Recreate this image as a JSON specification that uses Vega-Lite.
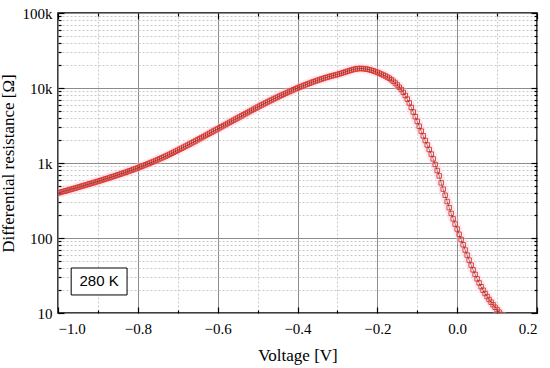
{
  "$schema": "https://vega.github.io/schema/vega-lite/v6.json",
  "width": 479,
  "height": 300,
  "autosize": "none",
  "padding": {"left": 58, "top": 13, "right": 13, "bottom": 55},
  "background": "white",
  "config": {
    "view": {"stroke": "black", "strokeWidth": 1.5},
    "axis": {"labelFont": "Liberation Serif", "titleFont": "Liberation Serif", "labelFontSize": 15, "titleFontSize": 17, "titleFontWeight": "normal", "labelColor": "black", "titleColor": "black", "domainColor": "black", "domainWidth": 1.5, "tickColor": "black", "tickWidth": 1.2}
  },
  "datasets": {
    "curve": [
      {"v": -1.000, "r": 398.1}, {"v": -0.995, "r": 405.0}, {"v": -0.990, "r": 412.1}, {"v": -0.985, "r": 419.3}, {"v": -0.980, "r": 426.6},
      {"v": -0.975, "r": 434.0}, {"v": -0.970, "r": 441.6}, {"v": -0.965, "r": 449.3}, {"v": -0.960, "r": 457.1}, {"v": -0.955, "r": 465.6},
      {"v": -0.950, "r": 474.2}, {"v": -0.945, "r": 483.0}, {"v": -0.940, "r": 492.1}, {"v": -0.935, "r": 500.6}, {"v": -0.930, "r": 509.3},
      {"v": -0.925, "r": 518.8}, {"v": -0.920, "r": 528.4}, {"v": -0.915, "r": 538.2}, {"v": -0.910, "r": 548.2}, {"v": -0.905, "r": 558.4},
      {"v": -0.900, "r": 568.8}, {"v": -0.895, "r": 580.1}, {"v": -0.890, "r": 591.5}, {"v": -0.885, "r": 603.3}, {"v": -0.880, "r": 615.2},
      {"v": -0.875, "r": 627.3}, {"v": -0.870, "r": 639.8}, {"v": -0.865, "r": 652.4}, {"v": -0.860, "r": 665.3}, {"v": -0.855, "r": 679.2},
      {"v": -0.850, "r": 693.4}, {"v": -0.845, "r": 707.9}, {"v": -0.840, "r": 722.7}, {"v": -0.835, "r": 737.9}, {"v": -0.830, "r": 753.3},
      {"v": -0.825, "r": 770.0}, {"v": -0.820, "r": 787.0}, {"v": -0.815, "r": 804.4}, {"v": -0.810, "r": 822.2}, {"v": -0.805, "r": 841.4},
      {"v": -0.800, "r": 861.0}, {"v": -0.795, "r": 882.1}, {"v": -0.790, "r": 903.7}, {"v": -0.785, "r": 925.8}, {"v": -0.780, "r": 948.5},
      {"v": -0.775, "r": 972.8}, {"v": -0.770, "r": 997.7}, {"v": -0.765, "r": 1023}, {"v": -0.760, "r": 1049}, {"v": -0.755, "r": 1078},
      {"v": -0.750, "r": 1106}, {"v": -0.745, "r": 1138}, {"v": -0.740, "r": 1169}, {"v": -0.735, "r": 1202}, {"v": -0.730, "r": 1236},
      {"v": -0.725, "r": 1272}, {"v": -0.720, "r": 1309}, {"v": -0.715, "r": 1349}, {"v": -0.710, "r": 1390}, {"v": -0.705, "r": 1434},
      {"v": -0.700, "r": 1479}, {"v": -0.695, "r": 1526}, {"v": -0.690, "r": 1574}, {"v": -0.685, "r": 1626}, {"v": -0.680, "r": 1679},
      {"v": -0.675, "r": 1734}, {"v": -0.670, "r": 1790}, {"v": -0.665, "r": 1850}, {"v": -0.660, "r": 1909}, {"v": -0.655, "r": 1970},
      {"v": -0.650, "r": 2042}, {"v": -0.645, "r": 2111}, {"v": -0.640, "r": 2183}, {"v": -0.635, "r": 2257}, {"v": -0.630, "r": 2334},
      {"v": -0.625, "r": 2413}, {"v": -0.620, "r": 2495}, {"v": -0.615, "r": 2579}, {"v": -0.610, "r": 2667}, {"v": -0.605, "r": 2757},
      {"v": -0.600, "r": 2851}, {"v": -0.595, "r": 2948}, {"v": -0.590, "r": 3048}, {"v": -0.585, "r": 3151}, {"v": -0.580, "r": 3258},
      {"v": -0.575, "r": 3369}, {"v": -0.570, "r": 3483}, {"v": -0.565, "r": 3602}, {"v": -0.560, "r": 3724}, {"v": -0.555, "r": 3850},
      {"v": -0.550, "r": 3981}, {"v": -0.545, "r": 4116}, {"v": -0.540, "r": 4256}, {"v": -0.535, "r": 4400}, {"v": -0.530, "r": 4550},
      {"v": -0.525, "r": 4704}, {"v": -0.520, "r": 4864}, {"v": -0.515, "r": 5029}, {"v": -0.510, "r": 5200}, {"v": -0.505, "r": 5376},
      {"v": -0.500, "r": 5559}, {"v": -0.495, "r": 5741}, {"v": -0.490, "r": 5929}, {"v": -0.485, "r": 6117}, {"v": -0.480, "r": 6310},
      {"v": -0.475, "r": 6509}, {"v": -0.470, "r": 6714}, {"v": -0.465, "r": 6918}, {"v": -0.460, "r": 7128}, {"v": -0.455, "r": 7345},
      {"v": -0.450, "r": 7568}, {"v": -0.445, "r": 7789}, {"v": -0.440, "r": 8017}, {"v": -0.435, "r": 8251}, {"v": -0.430, "r": 8492},
      {"v": -0.425, "r": 8730}, {"v": -0.420, "r": 8975}, {"v": -0.415, "r": 9226}, {"v": -0.410, "r": 9485}, {"v": -0.405, "r": 9739},
      {"v": -0.400, "r": 10000}, {"v": -0.395, "r": 10254}, {"v": -0.390, "r": 10518}, {"v": -0.385, "r": 10782}, {"v": -0.380, "r": 11036},
      {"v": -0.375, "r": 11298}, {"v": -0.370, "r": 11559}, {"v": -0.365, "r": 11831}, {"v": -0.360, "r": 12103}, {"v": -0.355, "r": 12371},
      {"v": -0.350, "r": 12648}, {"v": -0.345, "r": 12910}, {"v": -0.340, "r": 13183}, {"v": -0.335, "r": 13441}, {"v": -0.330, "r": 13709},
      {"v": -0.325, "r": 13960}, {"v": -0.320, "r": 14228}, {"v": -0.315, "r": 14454}, {"v": -0.310, "r": 14685}, {"v": -0.305, "r": 14910},
      {"v": -0.300, "r": 15136}, {"v": -0.295, "r": 15439}, {"v": -0.290, "r": 15742}, {"v": -0.285, "r": 16052}, {"v": -0.280, "r": 16370},
      {"v": -0.275, "r": 16696}, {"v": -0.270, "r": 17019}, {"v": -0.265, "r": 17336}, {"v": -0.260, "r": 17662}, {"v": -0.255, "r": 17903},
      {"v": -0.250, "r": 18110}, {"v": -0.245, "r": 18173}, {"v": -0.240, "r": 18197}, {"v": -0.235, "r": 18110}, {"v": -0.230, "r": 17986},
      {"v": -0.225, "r": 17783}, {"v": -0.220, "r": 17541}, {"v": -0.215, "r": 17236}, {"v": -0.210, "r": 16909}, {"v": -0.205, "r": 16540},
      {"v": -0.200, "r": 16145}, {"v": -0.195, "r": 15742}, {"v": -0.190, "r": 15315}, {"v": -0.185, "r": 14892}, {"v": -0.180, "r": 14454},
      {"v": -0.175, "r": 13976}, {"v": -0.170, "r": 13490}, {"v": -0.165, "r": 12910}, {"v": -0.160, "r": 12303}, {"v": -0.155, "r": 11640},
      {"v": -0.150, "r": 10965}, {"v": -0.145, "r": 10254}, {"v": -0.140, "r": 9550}, {"v": -0.135, "r": 8750}, {"v": -0.130, "r": 7943},
      {"v": -0.125, "r": 7112}, {"v": -0.120, "r": 6310}, {"v": -0.115, "r": 5508}, {"v": -0.110, "r": 4786}, {"v": -0.105, "r": 4150},
      {"v": -0.100, "r": 3589}, {"v": -0.095, "r": 3090}, {"v": -0.090, "r": 2661}, {"v": -0.085, "r": 2302}, {"v": -0.080, "r": 1995},
      {"v": -0.075, "r": 1738}, {"v": -0.070, "r": 1514}, {"v": -0.065, "r": 1315}, {"v": -0.060, "r": 1135}, {"v": -0.055, "r": 955},
      {"v": -0.050, "r": 794}, {"v": -0.045, "r": 673.0}, {"v": -0.040, "r": 543.2}, {"v": -0.035, "r": 448.8}, {"v": -0.030, "r": 371.5},
      {"v": -0.025, "r": 306.9}, {"v": -0.020, "r": 254.1}, {"v": -0.015, "r": 212.8}, {"v": -0.010, "r": 179.9}, {"v": -0.005, "r": 153.5},
      {"v": 0.000, "r": 131.8}, {"v": 0.005, "r": 112.2}, {"v": 0.010, "r": 95.5}, {"v": 0.015, "r": 81.28}, {"v": 0.020, "r": 69.18},
      {"v": 0.025, "r": 59.15}, {"v": 0.030, "r": 50.70}, {"v": 0.035, "r": 43.55}, {"v": 0.040, "r": 37.58}, {"v": 0.045, "r": 32.66},
      {"v": 0.050, "r": 28.51}, {"v": 0.055, "r": 25.18}, {"v": 0.060, "r": 22.39}, {"v": 0.065, "r": 20.14}, {"v": 0.070, "r": 18.20},
      {"v": 0.075, "r": 16.56}, {"v": 0.080, "r": 15.14}, {"v": 0.085, "r": 13.93}, {"v": 0.090, "r": 12.88}, {"v": 0.095, "r": 11.94},
      {"v": 0.100, "r": 11.09}, {"v": 0.105, "r": 10.28}, {"v": 0.110, "r": 9.55}, {"v": 0.115, "r": 8.91}
    ],
    "label": [{"v": -0.897, "r": 26.5, "v1": -0.967, "v2": -0.827, "r1": 17.4, "r2": 39.8, "text": "280 K"}]
  },
  "layer": [
    {
      "data": {"name": "curve"},
      "mark": {"type": "point", "opacity": 0},
      "encoding": {
        "x": {"field": "v", "type": "quantitative", "scale": {"domain": [-1, 0.2], "nice": false, "zero": false},
          "axis": {"orient": "bottom", "title": "Voltage [V]", "values": [-1.0, -0.9, -0.8, -0.7, -0.6, -0.5, -0.4, -0.3, -0.2, -0.1, 0.0, 0.1, 0.2],
            "labelExpr": "abs(datum.value*5 - round(datum.value*5)) < 0.001 ? replace(format(datum.value, '.1f'), '-', '\u2212') : ''",
            "labelOverlap": false, "labelPadding": 14, "titlePadding": 8, "domain": false,
            "tickSize": {"condition": {"test": "abs(datum.value*5 - round(datum.value*5)) < 0.001", "value": -6}, "value": -3},
            "grid": true,
            "gridColor": {"condition": {"test": "abs(datum.value*5 - round(datum.value*5)) < 0.001", "value": "#8c8c8c"}, "value": "#c8c8c8"},
            "gridDash": {"condition": {"test": "abs(datum.value*5 - round(datum.value*5)) < 0.001", "value": []}, "value": [2, 2]},
            "gridWidth": 1}},
        "y": {"field": "r", "type": "quantitative", "scale": {"type": "log", "domain": [10, 100000], "nice": false},
          "axis": {"orient": "left", "title": "Differential resistance [\u03a9]",
            "values": [10, 20, 30, 40, 50, 60, 70, 80, 90, 100, 200, 300, 400, 500, 600, 700, 800, 900, 1000, 2000, 3000, 4000, 5000, 6000, 7000, 8000, 9000, 10000, 20000, 30000, 40000, 50000, 60000, 70000, 80000, 90000, 100000],
            "labelExpr": "abs(log(datum.value)/LN10 - round(log(datum.value)/LN10)) < 0.001 ? (datum.value >= 1000 ? format(datum.value/1000, 'd') + 'k' : format(datum.value, 'd')) : ''",
            "labelOverlap": false, "labelPadding": 12, "titlePadding": 5, "domain": false,
            "tickSize": {"condition": {"test": "abs(log(datum.value)/LN10 - round(log(datum.value)/LN10)) < 0.001", "value": -6}, "value": -3},
            "grid": true,
            "gridColor": {"condition": {"test": "abs(log(datum.value)/LN10 - round(log(datum.value)/LN10)) < 0.001", "value": "#8c8c8c"}, "value": "#c8c8c8"},
            "gridDash": {"condition": {"test": "abs(log(datum.value)/LN10 - round(log(datum.value)/LN10)) < 0.001", "value": []}, "value": [2, 2]},
            "gridWidth": 1}}
      }
    },
    {
      "data": {"name": "curve"},
      "mark": {"type": "point", "opacity": 0},
      "encoding": {
        "x": {"field": "v", "type": "quantitative",
          "axis": {"orient": "top", "title": null, "labels": false, "grid": false, "domain": false,
            "values": [-1.0, -0.9, -0.8, -0.7, -0.6, -0.5, -0.4, -0.3, -0.2, -0.1, 0.0, 0.1, 0.2],
            "tickSize": {"condition": {"test": "abs(datum.value*5 - round(datum.value*5)) < 0.001", "value": -6}, "value": -3}}},
        "y": {"field": "r", "type": "quantitative",
          "axis": {"orient": "right", "title": null, "labels": false, "grid": false, "domain": false,
            "values": [10, 20, 30, 40, 50, 60, 70, 80, 90, 100, 200, 300, 400, 500, 600, 700, 800, 900, 1000, 2000, 3000, 4000, 5000, 6000, 7000, 8000, 9000, 10000, 20000, 30000, 40000, 50000, 60000, 70000, 80000, 90000, 100000],
            "tickSize": {"condition": {"test": "abs(log(datum.value)/LN10 - round(log(datum.value)/LN10)) < 0.001", "value": -6}, "value": -3}}}
      }
    },
    {
      "data": {"name": "curve"},
      "mark": {"type": "line", "stroke": "#ffc0d6", "strokeWidth": 10, "opacity": 0.35, "clip": true, "strokeCap": "round", "strokeJoin": "round"},
      "encoding": {
        "x": {"field": "v", "type": "quantitative", "axis": null},
        "y": {"field": "r", "type": "quantitative", "axis": null}
      }
    },
    {
      "data": {"name": "curve"},
      "mark": {"type": "point", "shape": "square", "filled": false, "stroke": "#d8352c", "strokeWidth": 0.9, "size": 20, "opacity": 1, "clip": true},
      "encoding": {
        "x": {"field": "v", "type": "quantitative", "axis": null},
        "y": {"field": "r", "type": "quantitative", "axis": null}
      }
    },
    {
      "data": {"name": "curve"},
      "mark": {"type": "line", "stroke": "#3a1a1a", "strokeWidth": 0.7, "opacity": 0.7, "clip": true},
      "encoding": {
        "x": {"field": "v", "type": "quantitative", "axis": null},
        "y": {"field": "r", "type": "quantitative", "axis": null}
      }
    },
    {
      "data": {"name": "label"},
      "mark": {"type": "rect", "fill": "white", "stroke": "black", "strokeWidth": 1},
      "encoding": {
        "x": {"field": "v1", "type": "quantitative", "axis": null},
        "x2": {"field": "v2"},
        "y": {"field": "r1", "type": "quantitative", "axis": null},
        "y2": {"field": "r2"}
      }
    },
    {
      "data": {"name": "label"},
      "mark": {"type": "text", "font": "Liberation Sans", "fontSize": 15, "color": "black", "align": "center", "baseline": "middle"},
      "encoding": {
        "x": {"field": "v", "type": "quantitative", "axis": null},
        "y": {"field": "r", "type": "quantitative", "axis": null},
        "text": {"field": "text"}
      }
    }
  ],
  "resolve": {"axis": {"x": "independent", "y": "independent"}}
}
